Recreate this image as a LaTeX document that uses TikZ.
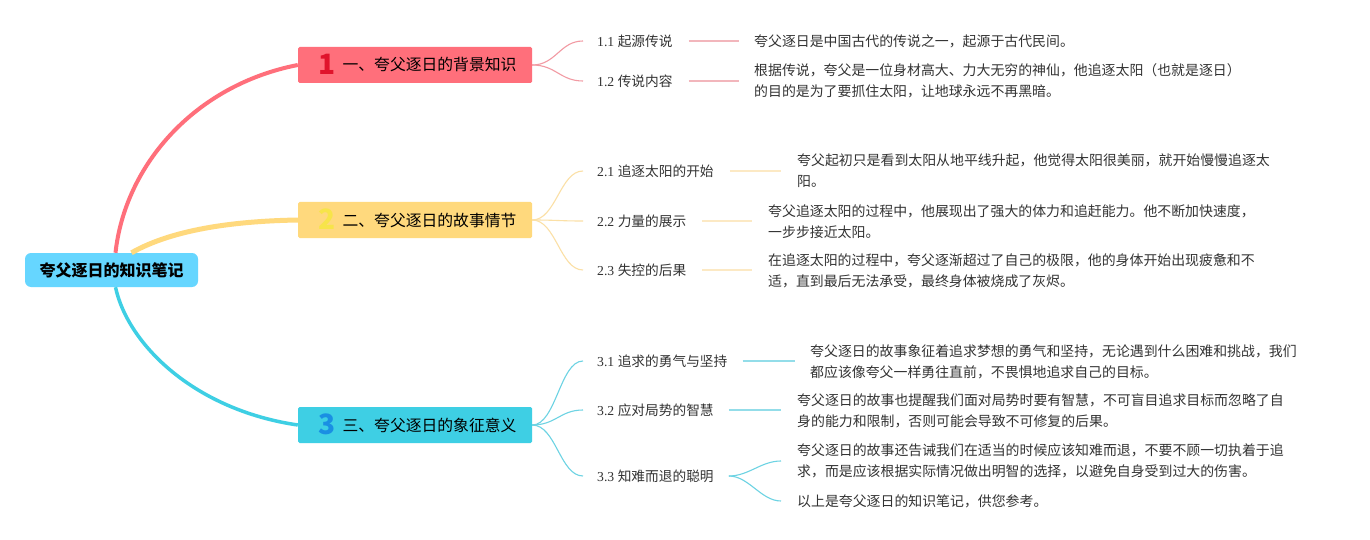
\documentclass[tikz,border=0pt]{standalone}
\usepackage{fontspec}
\setmainfont{Liberation Serif}
\newfontfamily\cjk{Noto Sans CJK SC}
\definecolor{rootc}{HTML}{66D6FF}
\definecolor{cone}{HTML}{FF6F7B}
\definecolor{ctwo}{HTML}{FFD97D}
\definecolor{cthree}{HTML}{3ECFE4}
\definecolor{none}{HTML}{E0142C}
\definecolor{ntwo}{HTML}{F7E44A}
\definecolor{nthree}{HTML}{1A8FE3}
\definecolor{sone}{HTML}{F29AA3}
\definecolor{stwo}{HTML}{FBE0A6}
\definecolor{sthree}{HTML}{6DD3E3}
\definecolor{hone}{HTML}{F2B6BC}
\definecolor{htwo}{HTML}{FCE9C4}
\definecolor{hthree}{HTML}{93DDE9}
\definecolor{txt}{HTML}{333333}
\newcommand\bignum[2]{\raisebox{-3.5pt}{\textcolor{#1}{\fontsize{28}{28}\selectfont\bfseries #2}}}
\begin{document}
\begin{tikzpicture}[x=1pt,y=-1pt,
  rootbox/.style={fill=rootc, rounded corners=6pt, minimum width=173pt, minimum height=34pt,
    inner sep=0pt, text height=12pt, text depth=0pt, font=\cjk\bfseries\fontsize{16}{18}\selectfont},
  mainbox/.style={minimum width=234pt, minimum height=36pt, rounded corners=1.5pt, inner sep=0pt,
    text height=12pt, text depth=0pt, text=black, font=\cjk\fontsize{15.8}{18}\selectfont},
  sublabel/.style={anchor=west, inner sep=0pt, text=txt, font=\fontsize{13.7}{16}\selectfont},
  detail/.style={anchor=west, inner sep=0pt, align=left, text=txt, font=\cjk\fontsize{13.9}{21}\selectfont},
  thin/.style={line width=1.1pt},
  hline/.style={line width=2pt}
]
\fill[white] (0,0) rectangle (1370,540);
\useasboundingbox (0,0) rectangle (1370,540);

% root and main boxes
\node[rootbox] (root) at (111.5,270) {夸父逐日的知识笔记};
\node[mainbox, fill=cone] (b1) at (415,65) {\hspace*{5pt}\bignum{none}{1}\hspace{7pt}一、夸父逐日的背景知识};
\node[mainbox, fill=ctwo] (b2) at (415,220) {\hspace*{5pt}\bignum{ntwo}{2}\hspace{7pt}二、夸父逐日的故事情节};
\node[mainbox, fill=cthree] (b3) at (415,425) {\hspace*{5pt}\bignum{nthree}{3}\hspace{7pt}三、夸父逐日的象征意义};

% main connectors
\draw[cone, line width=4pt] ([xshift=4pt]root.north) .. controls (125,165) and (195,85) .. (b1.west);
\draw[ctwo, line width=5pt] ([xshift=20pt]root.north) .. controls (175,228) and (240,221) .. (b2.west);
\draw[cthree, line width=3.5pt] ([xshift=4pt]root.south) .. controls (128,345) and (195,410) .. (b3.west);

% sub labels
\node[sublabel] (s11) at (597,41) {1.1 {\cjk 起源传说}};
\node[sublabel] (s12) at (597,81) {1.2 {\cjk 传说内容}};
\node[sublabel] (s21) at (597,171) {2.1 {\cjk 追逐太阳的开始}};
\node[sublabel] (s22) at (597,221) {2.2 {\cjk 力量的展示}};
\node[sublabel] (s23) at (597,270) {2.3 {\cjk 失控的后果}};
\node[sublabel] (s31) at (597,361) {3.1 {\cjk 追求的勇气与坚持}};
\node[sublabel] (s32) at (597,410) {3.2 {\cjk 应对局势的智慧}};
\node[sublabel] (s33) at (597,476) {3.3 {\cjk 知难而退的聪明}};

% details
\node[detail] (d11) at (754,41) {夸父逐日是中国古代的传说之一，起源于古代民间。};
\node[detail] (d12) at (754,81) {根据传说，夸父是一位身材高大、力大无穷的神仙，他追逐太阳（也就是逐日）\\的目的是为了要抓住太阳，让地球永远不再黑暗。};
\node[detail] (d21) at (797,171) {夸父起初只是看到太阳从地平线升起，他觉得太阳很美丽，就开始慢慢追逐太\\阳。};
\node[detail] (d22) at (768,222) {夸父追逐太阳的过程中，他展现出了强大的体力和追赶能力。他不断加快速度，\\一步步接近太阳。};
\node[detail] (d23) at (768,271) {在追逐太阳的过程中，夸父逐渐超过了自己的极限，他的身体开始出现疲惫和不\\适，直到最后无法承受，最终身体被烧成了灰烬。};
\node[detail] (d31) at (810,362) {夸父逐日的故事象征着追求梦想的勇气和坚持，无论遇到什么困难和挑战，我们\\都应该像夸父一样勇往直前，不畏惧地追求自己的目标。};
\node[detail] (d32) at (797,411) {夸父逐日的故事也提醒我们面对局势时要有智慧，不可盲目追求目标而忽略了自\\身的能力和限制，否则可能会导致不可修复的后果。};
\node[detail] (d33) at (797,461) {夸父逐日的故事还告诫我们在适当的时候应该知难而退，不要不顾一切执着于追\\求，而是应该根据实际情况做出明智的选择，以避免自身受到过大的伤害。};
\node[detail] (d34) at (797,501) {以上是夸父逐日的知识笔记，供您参考。};

% connectors box -> sub labels
\foreach \s in {s11,s12}
  \draw[sone, thin] (b1.east) .. controls (556,65) and (560,0 |- \s.west) .. ([xshift=-14pt]\s.west);
\foreach \s in {s21,s22,s23}
  \draw[stwo, thin] (b2.east) .. controls (556,220) and (560,0 |- \s.west) .. ([xshift=-14pt]\s.west);
\foreach \s in {s31,s32,s33}
  \draw[sthree, thin] (b3.east) .. controls (556,425) and (560,0 |- \s.west) .. ([xshift=-14pt]\s.west);

% label -> detail lines
\draw[hone, hline] ([xshift=16pt]s11.east) -- ([xshift=-15pt]s11.east -| d11.west);
\draw[hone, hline] ([xshift=16pt]s12.east) -- ([xshift=-15pt]s12.east -| d12.west);
\draw[htwo, hline] ([xshift=16pt]s21.east) -- ([xshift=-16pt]s21.east -| d21.west);
\draw[htwo, hline] ([xshift=16pt]s22.east) -- ([xshift=-16pt]s22.east -| d22.west);
\draw[htwo, hline] ([xshift=16pt]s23.east) -- ([xshift=-16pt]s23.east -| d23.west);
\draw[hthree, hline] ([xshift=15pt]s31.east) -- ([xshift=-15pt]s31.east -| d31.west);
\draw[hthree, hline] ([xshift=15pt]s32.east) -- ([xshift=-16pt]s32.east -| d32.west);
\draw[sthree, thin] ([xshift=15pt]s33.east) .. controls ([xshift=35pt]s33.east) and ([xshift=-36pt]d33.west) .. ([xshift=-16pt]d33.west);
\draw[sthree, thin] ([xshift=15pt]s33.east) .. controls ([xshift=35pt]s33.east) and ([xshift=-36pt]d34.west) .. ([xshift=-16pt]d34.west);
\end{tikzpicture}
\end{document}
